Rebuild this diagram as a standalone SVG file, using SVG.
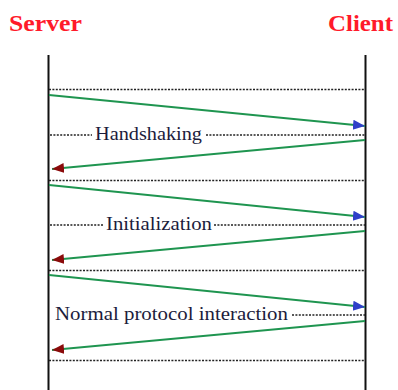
<svg xmlns="http://www.w3.org/2000/svg" width="398" height="390" viewBox="0 0 398 390">
  <style>
    .title { font-family: "Liberation Serif", "Times New Roman", serif; font-weight: bold; font-size: 24px; fill: #ff1a2a; }
    .label { font-family: "Liberation Serif", "Times New Roman", serif; font-size: 19.5px; fill: #1c1c3c; }
    .life { stroke: #111; stroke-width: 2; fill: none; }
    .dot { stroke: #222; stroke-width: 1.5; stroke-dasharray: 2 1.4; fill: none; }
    .msg { stroke: #1f9550; stroke-width: 1.8; fill: none; }
    .req { marker-end: url(#headBlue); }
    .rsp { marker-end: url(#headRed); }
  </style>
  <defs>
    <marker id="headBlue" markerUnits="userSpaceOnUse" markerWidth="14" markerHeight="12" refX="12" refY="5" orient="auto" viewBox="0 0 14 10">
      <polygon points="0,0 12,5 0,10" fill="#2f3fc8"/>
    </marker>
    <marker id="headRed" markerUnits="userSpaceOnUse" markerWidth="14" markerHeight="12" refX="12" refY="5" orient="auto" viewBox="0 0 14 10">
      <polygon points="0,0 12,5 0,10" fill="#8a0a0a"/>
    </marker>
  </defs>

  <g id="server">
    <text class="title" x="9" y="31" textLength="73" lengthAdjust="spacingAndGlyphs">Server</text>
    <line class="life" x1="48.5" y1="55" x2="48.5" y2="390"/>
  </g>
  <g id="client">
    <text class="title" x="328" y="31" textLength="65" lengthAdjust="spacingAndGlyphs">Client</text>
    <line class="life" x1="365.5" y1="55" x2="365.5" y2="390"/>
  </g>

  <g id="separators">
    <line class="dot" x1="49" y1="89.5" x2="365" y2="89.5"/>
    <line class="dot" x1="49" y1="180.5" x2="365" y2="180.5"/>
    <line class="dot" x1="49" y1="270.5" x2="365" y2="270.5"/>
    <line class="dot" x1="49" y1="360.5" x2="365" y2="360.5"/>
  </g>

  <g id="phase-handshaking">
    <line class="dot" x1="50" y1="135" x2="92" y2="135"/>
    <text class="label" x="95" y="139.5" textLength="107" lengthAdjust="spacingAndGlyphs">Handshaking</text>
    <line class="dot" x1="206" y1="135" x2="365" y2="135"/>
  </g>
  <g id="phase-initialization">
    <line class="dot" x1="50" y1="225" x2="104" y2="225"/>
    <text class="label" x="106" y="229.5" textLength="106" lengthAdjust="spacingAndGlyphs">Initialization</text>
    <line class="dot" x1="214" y1="225" x2="365" y2="225"/>
  </g>
  <g id="phase-normal">
    <text class="label" x="55" y="319.5" textLength="233" lengthAdjust="spacingAndGlyphs">Normal protocol interaction</text>
    <line class="dot" x1="292" y1="315" x2="365" y2="315"/>
  </g>

  <g id="connectors">
    <line class="msg req" x1="49" y1="95" x2="365" y2="126"/>
    <line class="msg rsp" x1="365" y1="140" x2="52" y2="169"/>
    <line class="msg req" x1="49" y1="185" x2="365" y2="217"/>
    <line class="msg rsp" x1="365" y1="231" x2="52" y2="260"/>
    <line class="msg req" x1="49" y1="275" x2="365" y2="307"/>
    <line class="msg rsp" x1="365" y1="321" x2="52" y2="350"/>
  </g>
</svg>
